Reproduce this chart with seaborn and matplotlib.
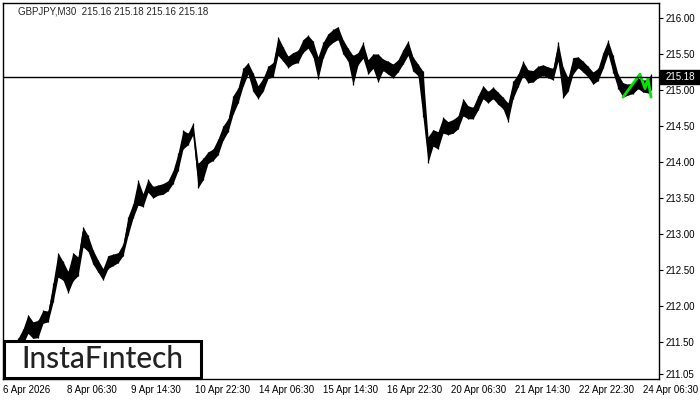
import matplotlib
matplotlib.use("Agg")
import matplotlib.pyplot as plt
import matplotlib.patches as patches
import pandas as pd
import seaborn as sns

# M30 bars counted from the left edge, read every 5 bars
bars = list(range(0, 646, 5)) + [648]
closes = [211.18, 211.25, 211.36, 211.46, 211.56, 211.78, 211.67, 211.69, 211.85, 211.86,
          212.19, 212.53, 212.50, 212.33, 212.47, 212.57, 213.03, 212.85, 212.67, 212.56,
          212.42, 212.61, 212.64, 212.67, 212.78, 213.13, 213.33, 213.50, 213.47, 213.68,
          213.58, 213.61, 213.63, 213.67, 213.78, 213.99, 214.31, 214.33, 214.47, 213.82,
          213.92, 214.07, 214.10, 214.19, 214.40, 214.51, 214.79, 214.93, 215.17, 215.31,
          215.11, 214.97, 215.07, 215.25, 215.28, 215.62, 215.49, 215.39, 215.44, 215.47,
          215.62, 215.67, 215.58, 215.35, 215.56, 215.69, 215.76, 215.79, 215.60, 215.49,
          215.39, 215.44, 215.56, 215.32, 215.39, 215.42, 215.35, 215.31, 215.28, 215.33,
          215.46, 215.60, 215.35, 215.28, 215.07, 214.17, 214.35, 214.31, 214.51, 214.47,
          214.50, 214.56, 214.75, 214.69, 214.68, 214.82, 214.97, 214.90, 214.96, 214.89,
          214.82, 214.72, 215.00, 215.14, 215.31, 215.19, 215.19, 215.25, 215.28, 215.25,
          215.22, 215.56, 215.21, 215.07, 215.35, 215.39, 215.33, 215.25, 215.17, 215.21,
          215.42, 215.62, 215.35, 215.11, 215.03, 215.00, 215.03, 215.10, 215.06, 215.06,
          215.18]
highs = [211.26, 211.33, 211.45, 211.55, 211.68, 211.88, 211.78, 211.80, 211.94, 211.93,
         212.32, 212.74, 212.62, 212.48, 212.74, 212.68, 213.10, 212.98, 212.78, 212.64,
         212.52, 212.70, 212.72, 212.74, 212.86, 213.24, 213.42, 213.75, 213.56, 213.76,
         213.66, 213.68, 213.70, 213.74, 213.88, 214.12, 214.44, 214.40, 214.54, 213.98,
         214.05, 214.14, 214.18, 214.32, 214.50, 214.60, 214.92, 215.03, 215.30, 215.38,
         215.24, 215.06, 215.16, 215.33, 215.38, 215.74, 215.60, 215.47, 215.52, 215.55,
         215.70, 215.76, 215.68, 215.46, 215.66, 215.78, 215.84, 215.88, 215.70, 215.58,
         215.48, 215.52, 215.66, 215.42, 215.50, 215.50, 215.43, 215.40, 215.36, 215.42,
         215.56, 215.68, 215.46, 215.36, 215.26, 214.35, 214.45, 214.42, 214.62, 214.56,
         214.59, 214.64, 214.88, 214.78, 214.76, 214.92, 215.06, 214.98, 215.04, 214.97,
         214.90, 214.82, 215.12, 215.22, 215.40, 215.28, 215.27, 215.33, 215.35, 215.32,
         215.30, 215.67, 215.32, 215.17, 215.45, 215.46, 215.40, 215.33, 215.25, 215.30,
         215.52, 215.69, 215.48, 215.22, 215.10, 215.08, 215.10, 215.17, 215.14, 215.14,
         215.22]
lows = [211.10, 211.15, 211.27, 211.38, 211.47, 211.62, 211.55, 211.56, 211.76, 211.78,
        212.05, 212.40, 212.36, 212.18, 212.35, 212.42, 212.82, 212.76, 212.58, 212.47,
        212.36, 212.52, 212.56, 212.60, 212.70, 212.98, 213.22, 213.40, 213.38, 213.58,
        213.50, 213.54, 213.55, 213.60, 213.70, 213.88, 214.18, 214.24, 214.38, 213.64,
        213.75, 213.98, 214.02, 214.10, 214.30, 214.42, 214.66, 214.82, 215.05, 215.22,
        214.98, 214.88, 214.98, 215.16, 215.18, 215.48, 215.40, 215.31, 215.36, 215.38,
        215.52, 215.58, 215.46, 215.15, 215.44, 215.60, 215.66, 215.70, 215.50, 215.40,
        215.07, 215.35, 215.44, 215.22, 215.30, 215.11, 215.27, 215.22, 215.17, 215.25,
        215.36, 215.48, 215.26, 215.20, 214.62, 213.99, 214.22, 214.18, 214.40, 214.38,
        214.40, 214.46, 214.64, 214.60, 214.60, 214.72, 214.88, 214.82, 214.88, 214.80,
        214.74, 214.56, 214.88, 215.04, 215.20, 215.10, 215.11, 215.17, 215.20, 215.17,
        215.14, 215.40, 214.89, 214.98, 215.22, 215.31, 215.25, 215.18, 215.08, 215.13,
        215.30, 215.50, 215.24, 215.02, 214.90, 214.93, 214.95, 215.02, 214.97, 214.96,
        215.00]

time_bars = [0, 64, 128, 192, 256, 320, 384, 448, 512, 576, 640]
time_labels = ["6 Apr 2026", "8 Apr 06:30", "9 Apr 14:30", "10 Apr 22:30", "14 Apr 06:30",
               "15 Apr 14:30", "16 Apr 22:30", "20 Apr 06:30", "21 Apr 14:30",
               "22 Apr 22:30", "24 Apr 06:30"]
price_ticks = [216.00, 215.50, 215.00, 214.50, 214.00, 213.50, 213.00,
               212.50, 212.00, 211.50, 211.05]
last_price = 215.18

# pattern drawn by the terminal in green
pattern_bars = [620, 637, 642, 645, 648]
pattern_prices = [214.90, 215.22, 215.02, 215.16, 214.90]

df = pd.DataFrame({"bar": bars, "close": closes, "high": highs, "low": lows})

sns.set_style("white")
plt.rcParams["font.family"] = ["Liberation Sans", "DejaVu Sans"]

fig = plt.figure(figsize=(7, 4), dpi=100)
ax = fig.add_axes([3 / 700, 21 / 400, 656 / 700, 376 / 400])

ax.fill_between(df["bar"], df["low"], df["high"], color="black", lw=0)
ax.vlines(df["bar"], df["low"], df["high"], color="black", lw=0.9)
sns.lineplot(data=df, x="bar", y="close", color="black", lw=0.8, ax=ax)
sns.lineplot(x=pattern_bars, y=pattern_prices, color="#00e600", lw=2, ax=ax)
ax.axhline(last_price, color="black", lw=1)

ax.set_xlim(0, 656)
ax.set_ylim(210.986, 216.208)
ax.set_xlabel("")
ax.set_ylabel("")
ax.set_xticks(time_bars)
ax.set_xticklabels(time_labels)
for lbl in ax.get_xticklabels():
    lbl.set_ha("left")
ax.yaxis.tick_right()
ax.set_yticks(price_ticks)
ax.set_yticklabels([f"{p:.2f}" for p in price_ticks])
ax.tick_params(axis="both", direction="out", length=3, width=0.8, colors="black",
               labelsize=7, pad=2)
ax.tick_params(axis="x", pad=1)
for s in ax.spines.values():
    s.set_color("black")
    s.set_linewidth(1)

# current price box on the right scale
trans = ax.get_yaxis_transform()
ax.add_patch(patches.Rectangle((1 + 1 / 656, last_price - 7 / 72), 40 / 656, 14 / 72,
                               transform=trans, color="black", clip_on=False, zorder=5))
ax.text(1 + 7 / 656, last_price, f"{last_price:.2f}", transform=trans, color="white",
        fontsize=7, va="center", ha="left", zorder=6)

fig.text(18 / 700, 1 - 11 / 400, "GBPJPY,M30  215.16 215.18 215.16 215.18",
         fontsize=7, va="center", ha="left")

# logo
fig.add_artist(patches.Rectangle((4 / 700, 22 / 400), 197 / 700, 37 / 400,
                                 transform=fig.transFigure, facecolor="white",
                                 edgecolor="black", lw=2.2, zorder=10))
fig.text(102 / 700, 1 - 359 / 400, "InstaFıntech", fontsize=21.5, color="#222222",
         family="Lato", fontweight="medium", ha="center", va="center", zorder=11)

fig.savefig("out.png", dpi=100)
